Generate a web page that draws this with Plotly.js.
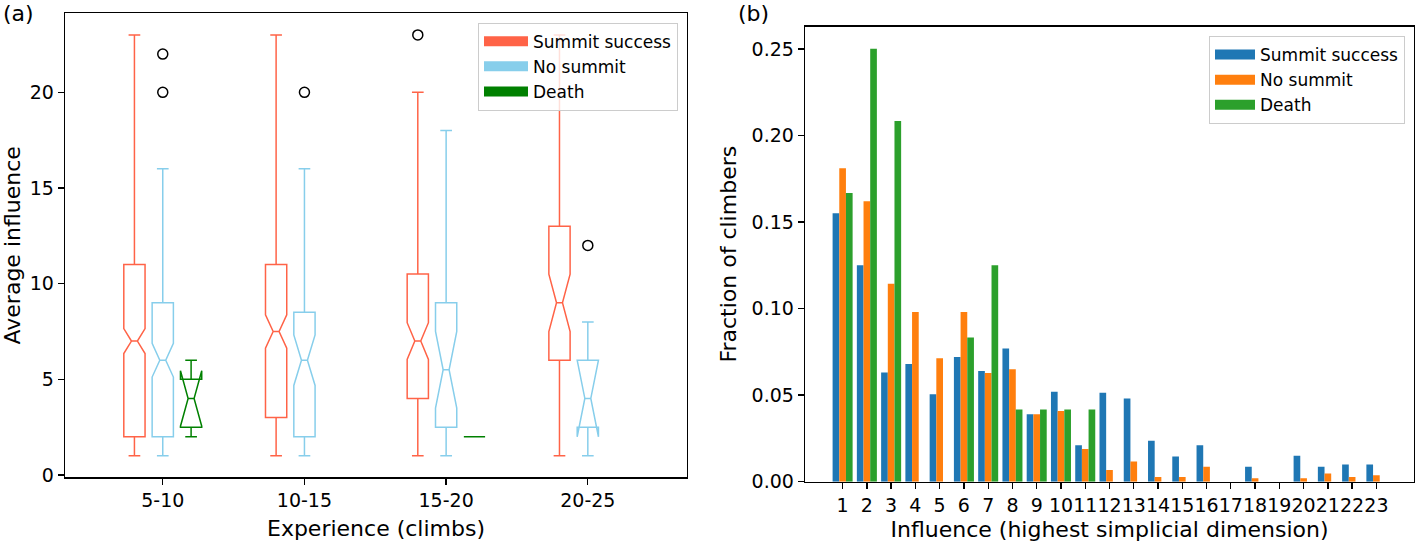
<!DOCTYPE html>
<html>
<head>
<meta charset="utf-8">
<script src="https://cdn.plot.ly/plotly-3.0.1.min.js"></script>
<style>html,body{margin:0;padding:0;background:#fff;}#chart{width:1416px;height:542px;}</style>
</head>
<body>
<div id="chart"></div>
<script>
// ---------- Panel (a): box plots ----------
const categories = ['5-10', '10-15', '15-20', '20-25'];
const seriesNames = ['Summit success', 'No summit', 'Death'];

const summitQ1 = [2, 3, 4, 6];
const summitMedian = [7, 7.5, 7, 9];
const summitQ3 = [11, 11, 10.5, 13];
const summitLow = [1, 1, 1, 1];
const summitHigh = [23, 23, 20, 23];
const summitNotch = [0.65, 0.87, 0.96, 1.5];

const noSummitQ1 = [2, 2, 2.5, 2.5];
const noSummitMedian = [6, 6, 5.5, 4];
const noSummitQ3 = [9, 8.5, 9, 6];
const noSummitLow = [1, 1, 1, 1];
const noSummitHigh = [16, 16, 18, 8];
const noSummitNotch = [0.88, 1.32, 2.0, 2.0];

const deathCategories = ['5-10', '15-20'];
const deathQ1 = [2.5, 2];
const deathMedian = [4, 2];
const deathQ3 = [5, 2];
const deathLow = [2, 2];
const deathHigh = [6, 2];
const deathNotch = [1.45, 0];

const summitOutlierCat = ['15-20'];
const summitOutlierVal = [23];
const noSummitOutlierCat = ['5-10', '5-10', '10-15', '20-25'];
const noSummitOutlierVal = [22, 20, 20, 12];

// ---------- Panel (b): grouped bars ----------
const influence = ['1','2','3','4','5','6','7','8','9','10','11','12','13','14','15','16','17','18','19','20','21','22','23'];
const successFrac = [0.155, 0.125, 0.063, 0.068, 0.0505, 0.072, 0.064, 0.077, 0.039, 0.052, 0.021, 0.0514, 0.048, 0.0237, 0.0145, 0.021, 0, 0.0087, 0, 0.015, 0.0087, 0.010, 0.010];
const noSummitFrac = [0.181, 0.162, 0.1144, 0.098, 0.0713, 0.098, 0.0628, 0.0649, 0.039, 0.0408, 0.0189, 0.0068, 0.0116, 0.0027, 0.0027, 0.0087, 0, 0.002, 0, 0.002, 0.0048, 0.0027, 0.0037];
const deathFrac = [0.1667, 0.25, 0.2083, 0, 0, 0.0833, 0.125, 0.0417, 0.0417, 0.0417, 0.0417, 0, 0, 0, 0, 0, 0, 0, 0, 0, 0, 0, 0];

// ---------- styling ----------
const boxColors = ['#ff6347', '#87ceeb', '#008000'];
const barColors = ['#1f77b4', '#ff7f0e', '#2ca02c'];
const FONT = 'DejaVu Sans, Liberation Sans, sans-serif';
const W = 1416, H = 542;

const catPos = c => categories.indexOf(c) + 1;
const offsets = [-0.2, 0, 0.2];

function boxTrace(cats, q1, med, q3, lo, hi, notch, k) {
  return {
    type: 'box', xaxis: 'x', yaxis: 'y',
    x: cats.map(c => catPos(c) + offsets[k]),
    q1: q1, median: med, q3: q3, lowerfence: lo, upperfence: hi,
    notched: true, notchspan: notch, notchwidth: 0.36,
    width: 0.15, whiskerwidth: 0.55,
    boxpoints: false,
    line: {color: boxColors[k], width: 1.5},
    fillcolor: 'rgba(0,0,0,0)',
    showlegend: false, hoverinfo: 'skip', name: seriesNames[k]
  };
}

function outlierTrace(cats, vals, k) {
  return {
    type: 'scatter', mode: 'markers', xaxis: 'x', yaxis: 'y',
    x: cats.map(c => catPos(c) + offsets[k]), y: vals,
    marker: {symbol: 'circle-open', size: 10, color: '#000', line: {width: 1.5, color: '#000'}},
    showlegend: false, hoverinfo: 'skip'
  };
}

function legendEntry(name, color, leg, xa, ya) {
  return {
    type: 'scatter', mode: 'lines', x: [null], y: [null], xaxis: xa, yaxis: ya,
    name: name, legend: leg, line: {color: color, width: 13}, hoverinfo: 'skip'
  };
}

const traces = [
  boxTrace(categories, summitQ1, summitMedian, summitQ3, summitLow, summitHigh, summitNotch, 0),
  boxTrace(categories, noSummitQ1, noSummitMedian, noSummitQ3, noSummitLow, noSummitHigh, noSummitNotch, 1),
  boxTrace(deathCategories, deathQ1, deathMedian, deathQ3, deathLow, deathHigh, deathNotch, 2),
  outlierTrace(summitOutlierCat, summitOutlierVal, 0),
  outlierTrace(noSummitOutlierCat, noSummitOutlierVal, 1),
];
[successFrac, noSummitFrac, deathFrac].forEach((vals, k) => {
  traces.push({
    type: 'bar', xaxis: 'x2', yaxis: 'y2',
    x: influence.map(Number), y: vals,
    marker: {color: barColors[k], line: {width: 0}},
    name: seriesNames[k], showlegend: false, hoverinfo: 'skip'
  });
});
seriesNames.forEach((n, k) => traces.push(legendEntry(n, boxColors[k], 'legend', 'x', 'y')));
seriesNames.forEach((n, k) => traces.push(legendEntry(n, barColors[k], 'legend2', 'x2', 'y2')));

const axisCommon = {
  showline: true, mirror: true, linecolor: '#000', linewidth: 1.3,
  ticks: 'outside', ticklen: 6, tickwidth: 1.3, tickcolor: '#000',
  showgrid: false, zeroline: false, tickangle: 0,
  tickfont: {family: FONT, size: 19, color: '#000'}
};
const titleFont = {family: FONT, size: 22, color: '#000'};

const layout = {
  width: W, height: H,
  margin: {l: 0, r: 0, t: 0, b: 0},
  paper_bgcolor: '#fff', plot_bgcolor: '#fff',
  font: {family: FONT, color: '#000'},
  boxmode: 'overlay',
  barmode: 'group', bargap: 0.175, bargroupgap: 0,
  xaxis: Object.assign({}, axisCommon, {
    domain: [65 / W, 687 / W], anchor: 'y',
    range: [0.31, 4.70],
    tickmode: 'array', tickvals: categories.map(catPos), ticktext: categories,
    title: {text: 'Experience (climbs)', font: titleFont, standoff: 10}
  }),
  yaxis: Object.assign({}, axisCommon, {
    domain: [1 - 477.3 / H, 1 - 13.3 / H], anchor: 'x',
    range: [-0.12, 24.13],
    tickmode: 'array', tickvals: [0, 5, 10, 15, 20],
    title: {text: 'Average influence', font: titleFont, standoff: 8}
  }),
  xaxis2: Object.assign({}, axisCommon, {
    domain: [805 / W, 1414 / W], anchor: 'y2',
    range: [-0.55, 24.55],
    tickmode: 'array', tickvals: influence.map(Number), ticktext: influence,
    title: {text: 'Influence (highest simplicial dimension)', font: titleFont, standoff: 8}
  }),
  yaxis2: Object.assign({}, axisCommon, {
    domain: [1 - 481.7 / H, 1 - 26.7 / H], anchor: 'x2',
    range: [0, 0.2628],
    tickmode: 'array', tickvals: [0, 0.05, 0.10, 0.15, 0.20, 0.25], tickformat: '.2f',
    title: {text: 'Fraction of climbers', font: titleFont, standoff: 9}
  }),
  legend: {
    x: 678 / W, xanchor: 'right', y: 1 - 22.7 / H, yanchor: 'top',
    bgcolor: 'rgba(255,255,255,0.8)', bordercolor: '#cccccc', borderwidth: 1,
    font: {family: FONT, size: 17, color: '#000'}, itemwidth: 44, tracegroupgap: 0
  },
  legend2: {
    x: 1405 / W, xanchor: 'right', y: 1 - 36 / H, yanchor: 'top',
    bgcolor: 'rgba(255,255,255,0.8)', bordercolor: '#cccccc', borderwidth: 1,
    font: {family: FONT, size: 17, color: '#000'}, itemwidth: 40, tracegroupgap: 0
  },
  annotations: [
    {text: '(a)', xref: 'paper', yref: 'paper', x: 18 / W, y: 1 - 13 / H, xanchor: 'center', yanchor: 'middle', showarrow: false, font: {family: FONT, size: 22, color: '#000'}},
    {text: '(b)', xref: 'paper', yref: 'paper', x: 753 / W, y: 1 - 14 / H, xanchor: 'center', yanchor: 'middle', showarrow: false, font: {family: FONT, size: 22, color: '#000'}}
  ],
  showlegend: true
};

Plotly.newPlot('chart', traces, layout, {staticPlot: true, displayModeBar: false});
</script>
</body>
</html>
